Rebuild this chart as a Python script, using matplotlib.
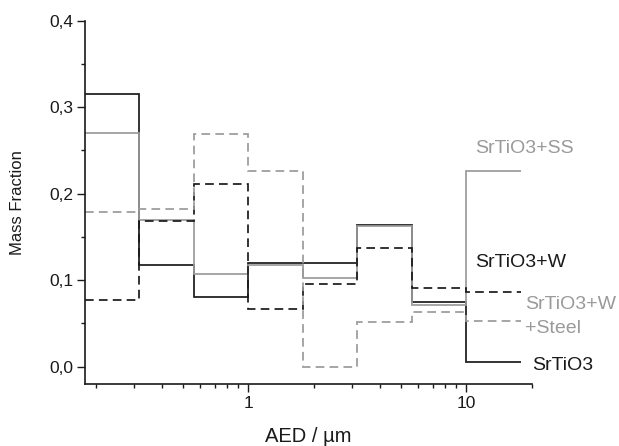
import matplotlib
matplotlib.use("Agg")
import matplotlib.pyplot as plt
from matplotlib.ticker import MultipleLocator, FixedLocator, NullFormatter
import numpy as np

plt.rcParams['font.family'] = ['Liberation Sans', 'DejaVu Sans']

# bin edges (AED, µm)
edges = [0.178, 0.316, 0.562, 1.0, 1.78, 3.16, 5.62, 10.0, 17.8]

srtio3 = [0.315, 0.118, 0.081, 0.120, 0.120, 0.164, 0.075, 0.005]
srtio3_ss = [0.270, 0.170, 0.107, 0.117, 0.102, 0.163, 0.071, 0.226]
srtio3_w = [0.077, 0.168, 0.211, 0.067, 0.096, 0.137, 0.091, 0.086]
srtio3_w_steel = [0.179, 0.182, 0.269, 0.226, 0.000, 0.052, 0.063, 0.053]

x_ticks = [1, 10]
x_ticklabels = ["1", "10"]
y_ticks = [0.0, 0.1, 0.2, 0.3, 0.4]
y_ticklabels = ["0,0", "0,1", "0,2", "0,3", "0,4"]

BLACK = "#1a1a1a"
GRAY = "#9a9a9a"

fig = plt.figure(figsize=(6.19, 4.46), dpi=100)
ax = fig.add_axes([0.1373, 0.139, 0.7227, 0.815])

lw = 1.25
ax.stairs(srtio3, edges, baseline=None, color=BLACK, lw=lw)
ax.stairs(srtio3_ss, edges, baseline=None, color=GRAY, lw=lw)
ax.stairs(srtio3_w, edges, baseline=None, color=BLACK, lw=lw, linestyle=(0, (5, 3)))
ax.stairs(srtio3_w_steel, edges, baseline=None, color=GRAY, lw=lw, linestyle=(0, (5, 3)))

ax.set_xscale('log')
ax.set_xlim(0.178, 20.1)
ax.set_ylim(-0.02, 0.4)

ax.xaxis.set_major_locator(FixedLocator(x_ticks))
ax.set_xticklabels(x_ticklabels)
minor = [v for d in [0.1, 1, 10] for v in np.array([2, 3, 4, 5, 6, 7, 8, 9]) * d]
ax.xaxis.set_minor_locator(FixedLocator(minor))
ax.xaxis.set_minor_formatter(NullFormatter())

ax.set_yticks(y_ticks)
ax.set_yticklabels(y_ticklabels)
ax.yaxis.set_minor_locator(MultipleLocator(0.05))

for s in ['top', 'right']:
    ax.spines[s].set_visible(False)
for s in ['left', 'bottom']:
    ax.spines[s].set_linewidth(1.2)
    ax.spines[s].set_color(BLACK)
ax.spines['left'].set_bounds(-0.02, 0.4)

ax.tick_params(axis='both', which='major', direction='out', length=5.5, width=1.0,
               labelsize=12.5, color=BLACK, labelcolor=BLACK, pad=3)
ax.tick_params(axis='both', which='minor', direction='out', length=3, width=1.0, color=BLACK)

ax.set_xlabel("AED / µm", fontsize=14.5, color=BLACK)
ax.xaxis.set_label_coords(0.5, -0.117)
ax.set_ylabel("Mass Fraction", fontsize=12, color=BLACK)
ax.yaxis.set_label_coords(-0.134, 0.5)

fs = 14
ax.text(11.0, 0.2517, "SrTiO3+SS", color=GRAY, fontsize=fs, va='center', ha='left')
ax.text(11.0, 0.120, "SrTiO3+W", color=BLACK, fontsize=fs, va='center', ha='left')
ax.text(18.6, 0.0713, "SrTiO3+W", color=GRAY, fontsize=fs, va='center', ha='left')
ax.text(18.6, 0.0437, "+Steel", color=GRAY, fontsize=fs, va='center', ha='left')
ax.text(20.05, 0.001, "SrTiO3", color=BLACK, fontsize=fs, va='center', ha='left')

fig.savefig("out.png", dpi=100)
